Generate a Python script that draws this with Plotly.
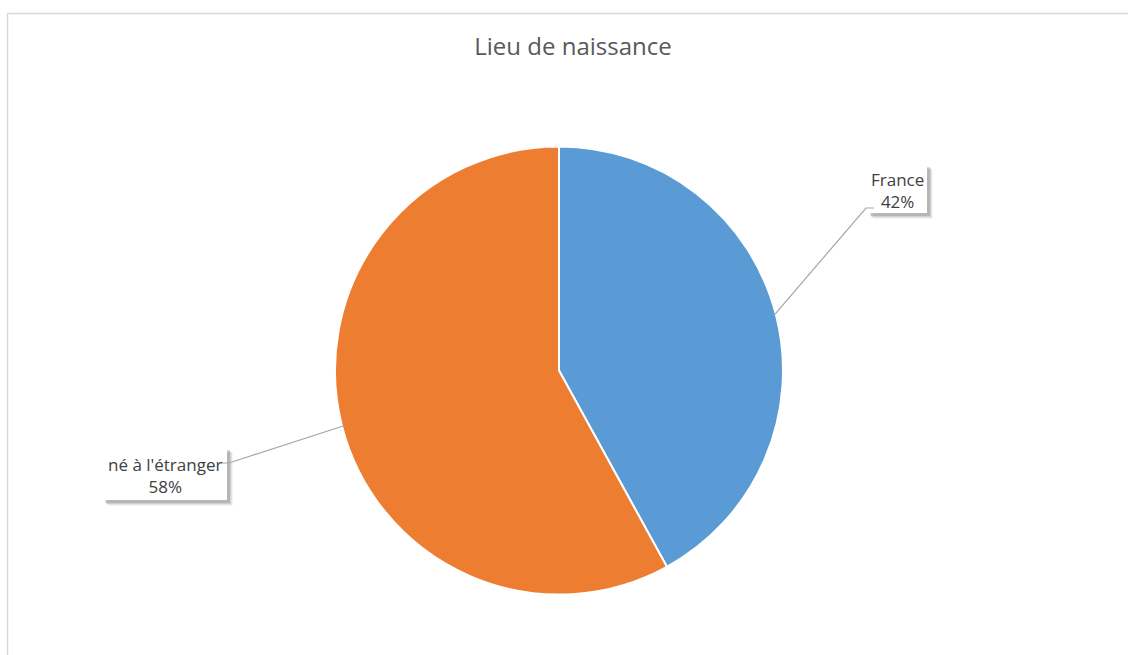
import math
import plotly.graph_objects as go

# Birthplace breakdown
categories = ["France", "né à l'étranger"]
shares = [42, 58]
colors = ["#5B9BD5", "#ED7D31"]

W, H = 1128, 655
CX, CY, R = 559, 370.5, 224  # pie centre / radius in pixels


def px(x):
    return x / W


def py(y):
    return 1 - y / H


fig = go.Figure(
    go.Pie(
        labels=categories,
        values=shares,
        sort=False,
        direction="clockwise",
        rotation=0,
        marker=dict(colors=colors, line=dict(color="white", width=2)),
        textinfo="none",
        hoverinfo="label+percent",
        showlegend=False,
        domain=dict(x=[px(CX - R), px(CX + R)], y=[py(CY + R), py(CY - R)]),
    )
)

shapes = []
annotations = []

# chart frame
shapes.append(dict(type="rect", xref="paper", yref="paper",
                   x0=px(7.5), x1=px(W + 20), y0=py(H + 20), y1=py(13.5),
                   line=dict(color="#D9D9D9", width=1.5), fillcolor="rgba(0,0,0,0)",
                   layer="below"))

# label boxes (left, top, right, bottom), anchor point of the leader line
boxes = [
    dict(box=(868, 165, 927, 213), anchor=(866, 208)),
    dict(box=(103, 448, 227, 500), anchor=(229, 463)),
]

total = sum(shares)
start = 0.0
for i, (cat, val) in enumerate(zip(categories, shares)):
    frac = val / total
    mid = (start + frac / 2) * 2 * math.pi
    start += frac
    ex = CX + 222 * math.sin(mid)
    ey = CY - 222 * math.cos(mid)
    x0, y0, x1, y1 = boxes[i]["box"]
    ax, ay = boxes[i]["anchor"]
    # soft shadow
    for k, op in [(6, 0.06), (5, 0.10), (4, 0.15), (3, 0.22)]:
        shapes.append(dict(type="rect", xref="paper", yref="paper",
                           x0=px(x0 + k - 1), x1=px(x1 + k), y0=py(y1 + k), y1=py(y0 + k - 1),
                           line=dict(width=0), fillcolor=f"rgba(90,90,90,{op})"))
    shapes.append(dict(type="rect", xref="paper", yref="paper",
                       x0=px(x0), x1=px(x1), y0=py(y1), y1=py(y0),
                       line=dict(width=0), fillcolor="white"))
    # leader line
    if ax < x0:
        pts = [(ax + 8, ay), (ax, ay)]
    else:
        pts = [(ax - 8, ay), (ax, ay)]
    path = f"M {px(pts[0][0])},{py(pts[0][1])} L {px(pts[1][0])},{py(pts[1][1])} L {px(ex)},{py(ey)}"
    shapes.append(dict(type="path", xref="paper", yref="paper", path=path,
                       line=dict(color="#A6A6A6", width=1.2)))
    annotations.append(dict(
        x=px((x0 + x1) / 2), y=py((y0 + y1) / 2 + 1), xref="paper", yref="paper",
        xanchor="center", yanchor="middle", showarrow=False,
        text=f"{cat}<br>{val}%",
        font=dict(family="Open Sans", size=17, color="#404040"),
    ))

fig.update_layout(
    width=W, height=H,
    margin=dict(l=0, r=0, t=0, b=0),
    paper_bgcolor="white",
    plot_bgcolor="white",
    title=dict(text="Lieu de naissance", x=px(573), xanchor="center",
               y=py(47), yanchor="middle",
               font=dict(family="Open Sans", size=24, color="#595959")),
    shapes=shapes,
    annotations=annotations,
)

fig.write_html("out.html")
